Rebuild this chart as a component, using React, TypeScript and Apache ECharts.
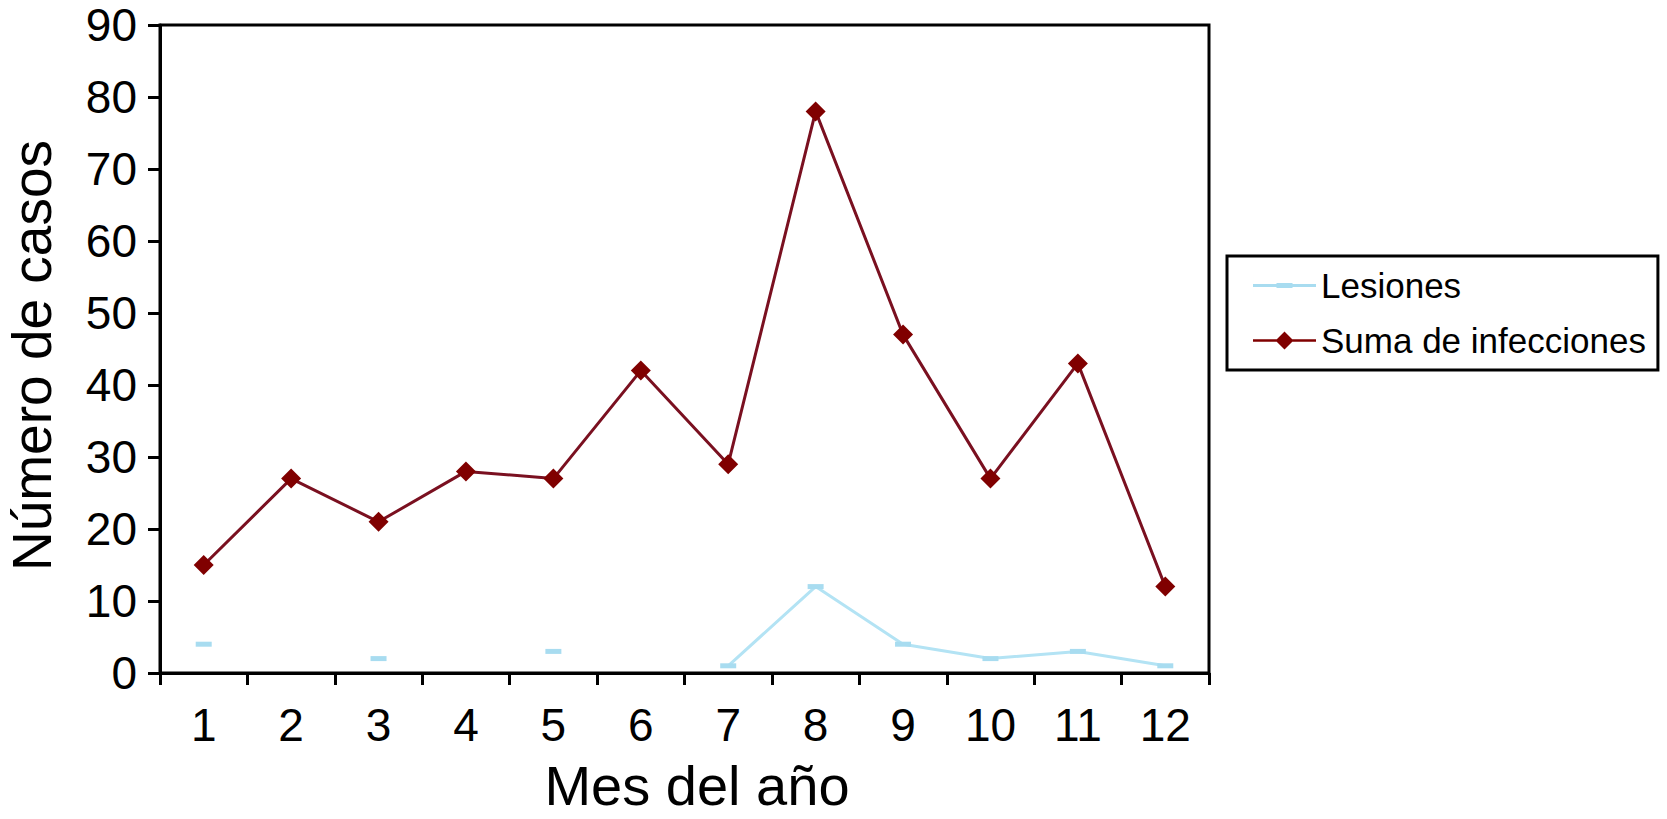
import React, { useEffect, useRef } from "react";
import * as echarts from "echarts";

const months = ["1", "2", "3", "4", "5", "6", "7", "8", "9", "10", "11", "12"];
const lesiones: (number | null)[] = [4, null, 2, null, 3, null, 1, 12, 4, 2, 3, 1];
const sumaInfecciones = [15, 27, 21, 28, 27, 42, 29, 78, 47, 27, 43, 12];
const yTicks = { min: 0, max: 90, interval: 10 };

const FONT = "Liberation Sans, Arial, sans-serif";

// legend icons: line + marker (thin invisible sliver keeps the 63x18 box)
const lesionesIcon =
  "path://M0,0H0.01V18H0Z M0,7.5H63V10.5H0Z M23.5,6.5H39.5V11.5H23.5Z";
const sumaIcon =
  "path://M0,7.75H63V10.25H0Z M31.5,0L40.5,9L31.5,18L22.5,9Z";

export default function App() {
  const ref = useRef<HTMLDivElement>(null);
  useEffect(() => {
    document.body.style.margin = "0";
    const chart = echarts.init(ref.current!, undefined, { renderer: "svg" });
    chart.setOption({
      animation: false,
      backgroundColor: "#fff",
      textStyle: { fontFamily: FONT },
      grid: {
        left: 160,
        top: 25,
        right: 458,
        bottom: 146,
        show: true,
        borderColor: "#000",
        borderWidth: 3,
        backgroundColor: "transparent",
        outerBoundsMode: "none",
        containLabel: false,
      },
      legend: {
        orient: "vertical",
        left: 1227,
        top: 256,
        padding: [12, 12, 12, 26],
        itemGap: 20,
        itemWidth: 63,
        itemHeight: 18,
        borderColor: "#000",
        borderWidth: 3,
        backgroundColor: "#fff",
        textStyle: { fontSize: 35, color: "#000", fontFamily: FONT },
        data: [
          { name: "Lesiones", icon: lesionesIcon, itemStyle: { color: "#a8dcf0" } },
          { name: "Suma de infecciones", icon: sumaIcon, itemStyle: { color: "#800000" } },
        ],
      },
      xAxis: {
        type: "category",
        data: months,
        boundaryGap: true,
        name: "Mes del año",
        nameLocation: "middle",
        nameGap: 84,
        nameTextStyle: { fontSize: 56, color: "#000", fontFamily: FONT, padding: [0, 0, 0, 25] },
        axisLine: { lineStyle: { color: "#000", width: 3 } },
        axisTick: { show: true, inside: false, length: 12, lineStyle: { color: "#000", width: 3 } },
        axisLabel: { fontSize: 46, color: "#000", margin: 29, fontFamily: FONT },
        splitLine: { show: false },
      },
      yAxis: {
        type: "value",
        min: yTicks.min,
        max: yTicks.max,
        interval: yTicks.interval,
        name: "Número de casos",
        nameLocation: "middle",
        nameGap: 101,
        nameRotate: 90,
        nameTextStyle: { fontSize: 55, color: "#000", fontFamily: FONT, padding: [0, 13, 0, 0] },
        axisLine: { show: true, lineStyle: { color: "#000", width: 3 } },
        axisTick: { show: true, inside: false, length: 12, lineStyle: { color: "#000", width: 3 } },
        axisLabel: { fontSize: 46, color: "#000", margin: 23, fontFamily: FONT },
        splitLine: { show: false },
      },
      series: [
        {
          name: "Lesiones",
          type: "line",
          data: lesiones,
          connectNulls: false,
          symbol: "rect",
          symbolSize: [16, 5],
          showAllSymbol: true,
          lineStyle: { color: "#b3e3f4", width: 3 },
          itemStyle: { color: "#a8dcf0" },
          z: 2,
        },
        {
          name: "Suma de infecciones",
          type: "line",
          data: sumaInfecciones,
          symbol: "diamond",
          symbolSize: 20,
          lineStyle: { color: "#7a1020", width: 3 },
          itemStyle: { color: "#800000" },
          z: 3,
        },
      ],
    });
    return () => chart.dispose();
  }, []);
  return (
    <div
      ref={ref}
      style={{ position: "absolute", left: 0, top: 0, width: 1667, height: 819 }}
    />
  );
}
